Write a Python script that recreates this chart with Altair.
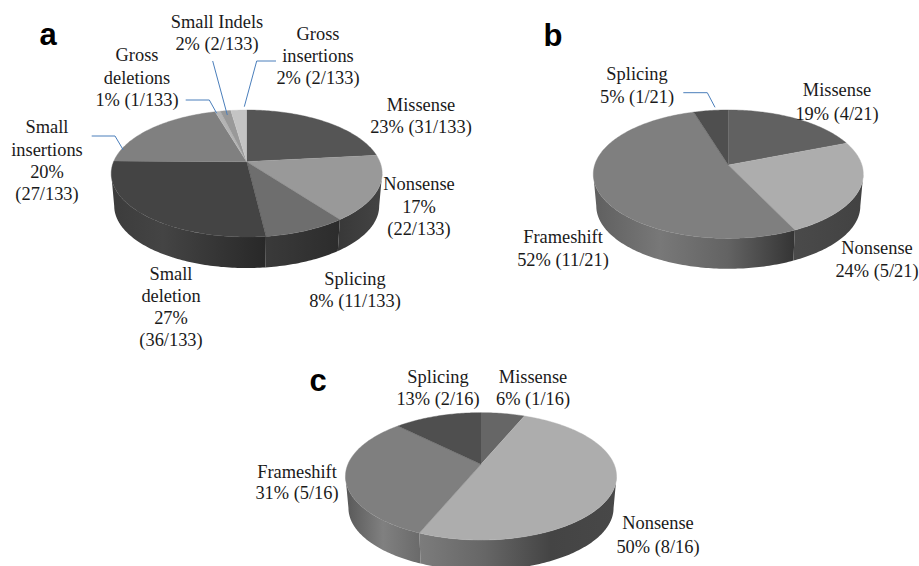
import math
import altair as alt
import pandas as pd

# Mutation counts per panel, clockwise from 12 o'clock
a_names = ["Missense", "Nonsense", "Splicing", "Small deletion", "Small insertions",
           "Gross deletions", "Small Indels", "Gross insertions"]
a_counts = [31, 22, 11, 36, 27, 1, 2, 2]
a_total = 133
b_names = ["Missense", "Nonsense", "Frameshift", "Splicing"]
b_counts = [4, 5, 11, 1]
b_total = 21
c_names = ["Missense", "Nonsense", "Frameshift", "Splicing"]
c_counts = [1, 8, 5, 2]
c_total = 16

# Top-face greys per slice
a_tops = ["#555555", "#999999", "#6e6e6e", "#444444", "#808080", "#b4b4b4", "#999999", "#c4c4c4"]
b_tops = ["#616161", "#adadad", "#7f7f7f", "#4f4f4f"]
c_tops = ["#666666", "#adadad", "#7f7f7f", "#4f4f4f"]

# Rim shading per slice, greys from left to right; None where the rim is out of sight
a_rims = [None, ["#383838", "#444444"], ["#3a3a3a", "#2c2c2c"],
          ["#3c3c3c", "#444444", "#363636", "#282828"], None, None, None, None]
b_rims = [None, ["#4a4a4a", "#424242"], ["#5f5f5f", "#787878", "#636363", "#343434"], None]
c_rims = [None, ["#7c7c7c", "#666666", "#444444", "#484848"], ["#585858", "#808080", "#6a6a6a"], None]

# Pie placement: apex x, apex y, half width, half depth, perspective, rim drop
a_pie = dict(cx=246.7, cy=161.7, A=133.1, B=61.3, k=0.186, drop=32.7)
b_pie = dict(cx=728.3, cy=165.0, A=133.6, B=62.9, k=0.143, drop=32.0)
c_pie = dict(cx=481.0, cy=464.3, A=133.1, B=61.4, k=0.189, drop=32.0)
RIM_SCALE = 0.978

# Label rows: text, x, y
labels = [
    ("Small Indels", 217, 22), ("2% (2/133)", 217, 44),
    ("Gross", 318, 34), ("insertions", 318, 56), ("2% (2/133)", 318, 78),
    ("Gross", 137, 55), ("deletions", 137, 78), ("1% (1/133)", 137, 100),
    ("Missense", 421, 105), ("23% (31/133)", 421, 127),
    ("Small", 47, 127), ("insertions", 47, 150), ("20%", 47, 172), ("(27/133)", 47, 194),
    ("Nonsense", 419, 184), ("17%", 419, 207), ("(22/133)", 419, 229),
    ("Splicing", 355, 279), ("8% (11/133)", 355, 301),
    ("Small", 171, 274), ("deletion", 171, 296), ("27%", 171, 318), ("(36/133)", 171, 340),
    ("Splicing", 637, 74), ("5% (1/21)", 637, 97),
    ("Missense", 837, 90), ("19% (4/21)", 837, 114),
    ("Frameshift", 563, 237), ("52% (11/21)", 563, 260),
    ("Nonsense", 877, 248), ("24% (5/21)", 877, 271),
    ("Splicing", 438, 377), ("13% (2/16)", 438, 399),
    ("Missense", 533, 377), ("6% (1/16)", 533, 399),
    ("Frameshift", 297, 472), ("31% (5/16)", 297, 493),
    ("Nonsense", 658, 523), ("50% (8/16)", 658, 547),
]
panel_letters = [("a", 48, 45), ("b", 553, 46), ("c", 318, 391)]

# Blue callout lines, one list of vertices each
leaders = [
    [(91.7, 136), (115, 136), (123.3, 150)],
    [(185.7, 100), (209.3, 100), (216.7, 113.3)],
    [(212.7, 61), (227.3, 115)],
    [(276, 61), (256.7, 61), (244.3, 106.7)],
    [(683.3, 92.7), (707.3, 92.7), (715, 107.3)],
]

X = alt.Scale(domain=[0, 919], range=[0, 919])
Y = alt.Scale(domain=[0, 566], range=[0, 566])


def project(p, deg, lower=False):
    """Perspective view of a point on the pie's rim, with 0 degrees at 12 o'clock."""
    t = math.radians(deg)
    u, v = math.sin(t), math.cos(t)
    w = 1 + p["k"] * v
    s = RIM_SCALE if lower else 1.0
    y0 = p["cy"] + (p["drop"] if lower else 0.0)
    return p["cx"] + s * p["A"] * u / w, y0 - s * p["B"] * v / w


def sweep(d0, d1):
    n = max(2, int(abs(d1 - d0)) + 1)
    return [d0 + (d1 - d0) * i / (n - 1) for i in range(n)]


def polygon(points, **mark):
    frame = pd.DataFrame([{"i": i, "x": x, "y": y} for i, (x, y) in enumerate(points)])
    return alt.Chart(frame).mark_line(clip=True, interpolate="linear", **mark).encode(
        x=alt.X("x:Q", scale=X, axis=None),
        y=alt.Y("y:Q", scale=Y, axis=None),
        order=alt.Order("i:Q"),
    )


def pie(counts, total, tops, rims, p):
    edges = [0.0]
    for c in counts:
        edges.append(edges[-1] + 360.0 * c / total)
    # The reported counts can fall short of the total; the last slice closes the circle
    edges[-1] = 360.0

    # The rim shows only between the silhouette points of the disc
    near = 90.0 + math.degrees(math.asin(p["k"]))
    far = 360.0 - near

    layers = []
    for d0, d1, rim in zip(edges, edges[1:], rims):
        lo, hi = max(d0, near), min(d1, far)
        if rim is None or lo >= hi:
            continue
        upper = [project(p, d) for d in sweep(lo, hi)]
        lower = [project(p, d, True) for d in sweep(hi, lo)]
        shade = alt.Gradient(
            gradient="linear", x1=0, x2=1, y1=0, y2=0,
            stops=[alt.GradientStop(color=g, offset=i / (len(rim) - 1)) for i, g in enumerate(rim)],
        )
        layers.append(polygon(upper + lower, fill=shade, strokeWidth=0))

    for d0, d1, colour in zip(edges, edges[1:], tops):
        arc = [project(p, d) for d in sweep(d0, d1)]
        layers.append(polygon([(p["cx"], p["cy"])] + arc, fill=colour, stroke=colour, strokeWidth=0.4))
    return layers


layers = pie(a_counts, a_total, a_tops, a_rims, a_pie)
layers += pie(b_counts, b_total, b_tops, b_rims, b_pie)
layers += pie(c_counts, c_total, c_tops, c_rims, c_pie)

for path in leaders:
    frame = pd.DataFrame([{"i": i, "x": x, "y": y} for i, (x, y) in enumerate(path)])
    layers.append(
        alt.Chart(frame).mark_line(color="#4a7ebb", strokeWidth=1).encode(
            x=alt.X("x:Q", scale=X, axis=None),
            y=alt.Y("y:Q", scale=Y, axis=None),
            order=alt.Order("i:Q"),
        )
    )

label_frame = pd.DataFrame(labels, columns=["text", "x", "y"])
layers.append(
    alt.Chart(label_frame).mark_text(
        font="Liberation Serif", fontSize=18.4, color="#1a1a1a", align="center", baseline="middle"
    ).encode(
        x=alt.X("x:Q", scale=X, axis=None),
        y=alt.Y("y:Q", scale=Y, axis=None),
        text="text:N",
    )
)

letter_frame = pd.DataFrame(panel_letters, columns=["text", "x", "y"])
layers.append(
    alt.Chart(letter_frame).mark_text(
        font="Liberation Sans", fontSize=31, fontWeight="bold", color="#000000",
        align="center", baseline="alphabetic",
    ).encode(
        x=alt.X("x:Q", scale=X, axis=None),
        y=alt.Y("y:Q", scale=Y, axis=None),
        text="text:N",
    )
)

chart = (
    alt.layer(*layers)
    .properties(width=919, height=566, padding=0, background="#ffffff",
                autosize=alt.AutoSizeParams(type="none"))
    .configure_view(stroke=None)
)

chart.save("out.html", embed_options={"renderer": "svg", "actions": False})
